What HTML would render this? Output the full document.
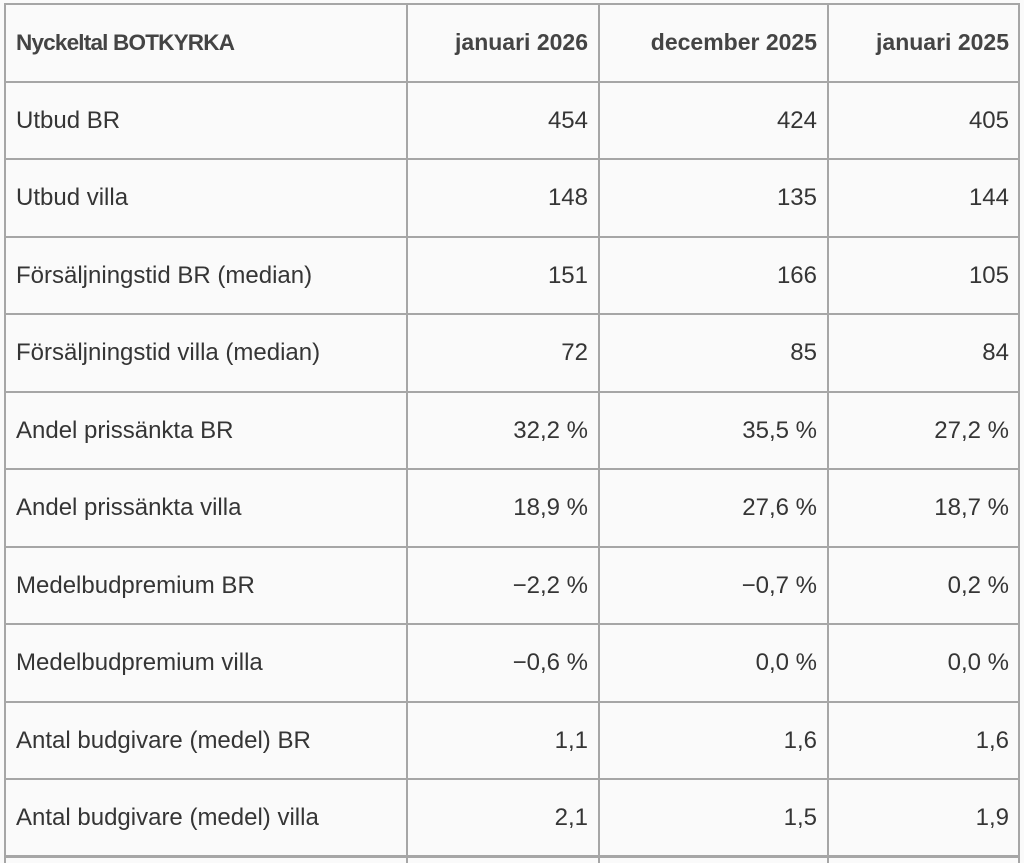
<!DOCTYPE html>
<html>
<head>
<meta charset="utf-8">
<style>
html,body{margin:0;padding:0;}
body{width:1024px;height:863px;overflow:hidden;background:#fafafa;position:relative;font-family:"Liberation Sans",Arial,sans-serif;color:#353535;}
.h{position:absolute;left:4px;width:1016px;height:2px;background:#a6a6a6;}
.v{position:absolute;top:3px;width:2px;height:860px;background:#a6a6a6;}
.row{position:absolute;left:0;width:1024px;height:77.5px;}
.c{position:absolute;top:0;height:77.5px;line-height:77.5px;font-size:24px;white-space:nowrap;}
.c0{left:16px;}
.c1{right:436px;text-align:right;}
.c2{right:207px;text-align:right;}
.c3{right:15px;text-align:right;}
.hd .c{font-weight:bold;font-size:23px;color:#444;}
.hd .c0{letter-spacing:-0.8px;font-size:22.5px;}
</style>
</head>
<body>
<div class="h" style="top:3px"></div>
<div class="h" style="top:80.5px"></div>
<div class="h" style="top:158px"></div>
<div class="h" style="top:235.5px"></div>
<div class="h" style="top:313px"></div>
<div class="h" style="top:390.5px"></div>
<div class="h" style="top:468px"></div>
<div class="h" style="top:545.5px"></div>
<div class="h" style="top:623px"></div>
<div class="h" style="top:700.5px"></div>
<div class="h" style="top:778px"></div>
<div class="h" style="top:855px;height:3px"></div>
<div class="v" style="left:4px"></div>
<div class="v" style="left:406px"></div>
<div class="v" style="left:598px"></div>
<div class="v" style="left:826.5px"></div>
<div class="v" style="left:1018px"></div>

<div class="row hd" style="top:4px"><div class="c c0">Nyckeltal BOTKYRKA</div><div class="c c1">januari 2026</div><div class="c c2">december 2025</div><div class="c c3">januari 2025</div></div>
<div class="row" style="top:81.5px"><div class="c c0">Utbud BR</div><div class="c c1">454</div><div class="c c2">424</div><div class="c c3">405</div></div>
<div class="row" style="top:159px"><div class="c c0">Utbud villa</div><div class="c c1">148</div><div class="c c2">135</div><div class="c c3">144</div></div>
<div class="row" style="top:236.5px"><div class="c c0">Försäljningstid BR (median)</div><div class="c c1">151</div><div class="c c2">166</div><div class="c c3">105</div></div>
<div class="row" style="top:314px"><div class="c c0">Försäljningstid villa (median)</div><div class="c c1">72</div><div class="c c2">85</div><div class="c c3">84</div></div>
<div class="row" style="top:391.5px"><div class="c c0">Andel prissänkta BR</div><div class="c c1">32,2 %</div><div class="c c2">35,5 %</div><div class="c c3">27,2 %</div></div>
<div class="row" style="top:469px"><div class="c c0">Andel prissänkta villa</div><div class="c c1">18,9 %</div><div class="c c2">27,6 %</div><div class="c c3">18,7 %</div></div>
<div class="row" style="top:546.5px"><div class="c c0">Medelbudpremium BR</div><div class="c c1">−2,2 %</div><div class="c c2">−0,7 %</div><div class="c c3">0,2 %</div></div>
<div class="row" style="top:624px"><div class="c c0">Medelbudpremium villa</div><div class="c c1">−0,6 %</div><div class="c c2">0,0 %</div><div class="c c3">0,0 %</div></div>
<div class="row" style="top:701.5px"><div class="c c0">Antal budgivare (medel) BR</div><div class="c c1">1,1</div><div class="c c2">1,6</div><div class="c c3">1,6</div></div>
<div class="row" style="top:779px"><div class="c c0">Antal budgivare (medel) villa</div><div class="c c1">2,1</div><div class="c c2">1,5</div><div class="c c3">1,9</div></div>
</body>
</html>
